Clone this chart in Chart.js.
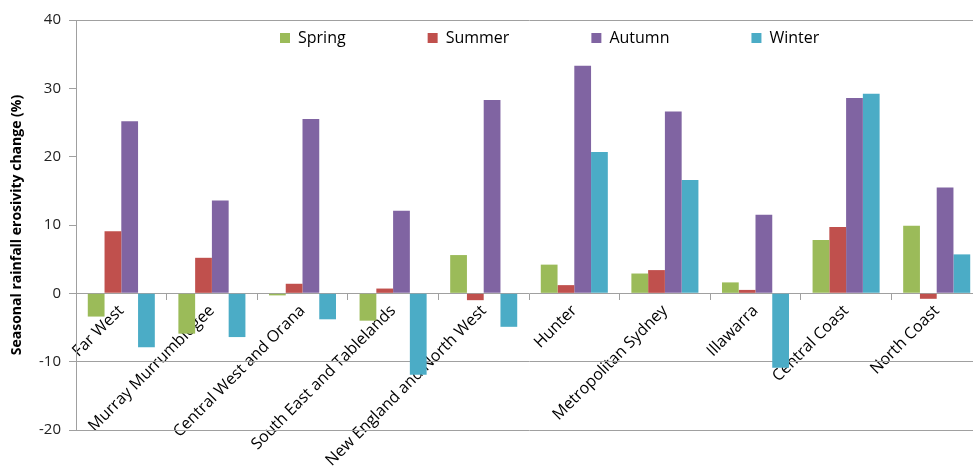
<!DOCTYPE html>
<html><head><meta charset="utf-8">
<script src="https://cdn.jsdelivr.net/npm/chart.js@4.4.1/dist/chart.umd.min.js"></script>
<style>
html,body{margin:0;padding:0;overflow:hidden;background:#fff;width:973px;height:471px}
#wrap{position:relative;width:985px;height:471px}
</style></head>
<body><div id="wrap"><canvas id="c"></canvas></div>
<script>
const categories = ['Far West','Murray Murrumbidgee','Central West and Orana','South East and Tablelands','New England and North West','Hunter','Metropolitan Sydney','Illawarra','Central Coast','North Coast'];
const seriesNames = ['Spring','Summer','Autumn','Winter'];
const spring = [-3.4, -5.9, -0.3, -4.0, 5.6, 4.2, 2.9, 1.6, 7.8, 9.9];
const summer = [9.1, 5.2, 1.4, 0.7, -1.0, 1.2, 3.4, 0.5, 9.7, -0.8];
const autumn = [25.2, 13.6, 25.5, 12.1, 28.3, 33.3, 26.6, 11.5, 28.6, 15.5];
const winter = [-7.9, -6.4, -3.8, -11.9, -4.9, 20.7, 16.6, -10.9, 29.2, 5.7];
const yTickValues = [-20, -10, 0, 10, 20, 30, 40];
const yGridShown = [-20, -10, 40];
const yTitle = 'Seasonal rainfall erosivity change (%)';

const colors = ['#9BBB59', '#C0504D', '#8064A2', '#4BACC6'];
const axisGray = '#A0A0A0';
const FONT = "'Open Sans', sans-serif";
const LEGEND_X = 280, LEGEND_ROW_TOP = 30, LEGEND_PAD = 82;

const legendPlacer = {
  id: 'legendPlacer',
  beforeLayout(chart) {
    const lg = chart.legend;
    if (lg && !lg.__patched) {
      const fit = lg.fit;
      lg.fit = function () { fit.call(this); this.height = 0; };
      lg.__patched = true;
    }
  },
  afterLayout(chart) {
    const lg = chart.legend;
    if (!lg) return;
    lg.left = LEGEND_X - LEGEND_PAD;
    lg.right = chart.width;
    lg.top = LEGEND_ROW_TOP - LEGEND_PAD;
    lg.bottom = LEGEND_ROW_TOP + 24;
    lg.width = lg.right - lg.left;
    lg.height = lg.bottom - lg.top;
  }
};

// horizontal reference lines: extra category axes placed at the given y values, showing only their axis line
const gridAxes = {};
yGridShown.forEach((v, i) => {
  gridAxes['xGrid' + i] = {
    axis: 'x', type: 'category', position: { y: v },
    grid: { display: false },
    ticks: { display: false },
    border: { display: true, color: axisGray, width: 1 }
  };
});

const data = [spring, summer, autumn, winter];
new Chart(document.getElementById('c'), {
  type: 'bar',
  data: {
    labels: categories,
    datasets: seriesNames.map((n, i) => ({
      label: n,
      data: data[i],
      xAxisID: 'x', yAxisID: 'y',
      backgroundColor: colors[i],
      borderWidth: 0,
      categoryPercentage: 0.74,
      barPercentage: 1.0
    }))
  },
  options: {
    responsive: true,
    maintainAspectRatio: false,
    animation: false,
    layout: { padding: { left: 0, right: 3, top: 20, bottom: 41 } },
    plugins: {
      legend: {
        position: 'top',
        align: 'start',
        labels: {
          boxWidth: 10, boxHeight: 10, padding: LEGEND_PAD,
          color: '#000', font: { family: FONT, size: 16 }
        }
      },
      tooltip: { enabled: false }
    },
    scales: Object.assign({
      x: {
        position: { y: 0 },
        grid: { display: true, drawOnChartArea: false, drawTicks: true, tickLength: 6, color: axisGray, offset: true },
        border: { display: true, color: axisGray, width: 1 },
        ticks: { minRotation: 45, maxRotation: 45, autoSkip: false, padding: 2, color: '#000', font: { family: FONT, size: 16 } }
      },
      y: {
        min: -20, max: 40,
        afterBuildTicks: (s) => { s.ticks = yTickValues.map(v => ({ value: v })); },
        afterFit: (s) => { s.width = 76; },
        grid: {
          display: true, drawOnChartArea: false,
          drawTicks: true, tickLength: 7, tickColor: axisGray, tickWidth: 1,
          color: axisGray
        },
        border: { display: true, color: axisGray, width: 1 },
        ticks: { padding: 8, color: '#222', font: { family: FONT, size: 15 } },
        title: { display: true, text: yTitle, color: '#000', padding: { top: 9, bottom: 4 }, font: { family: FONT, size: 14, weight: 'bold' } }
      }
    }, gridAxes)
  },
  plugins: [legendPlacer]
});
</script>
</body></html>
